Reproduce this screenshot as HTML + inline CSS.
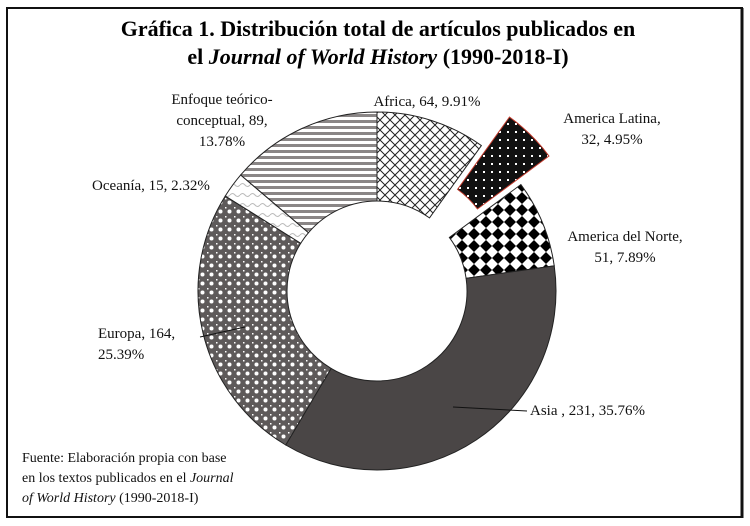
<!DOCTYPE html>
<html><head><meta charset="utf-8"><style>
html,body{margin:0;padding:0;background:#fff;}
svg{display:block;font-family:"Liberation Serif",serif;}
</style></head><body>
<svg width="750" height="526" viewBox="0 0 750 526">
<defs>
<pattern id="pAfr" width="10" height="10" patternUnits="userSpaceOnUse"><rect width="10" height="10" fill="#fff"/><path d="M0 0L10 10M10 0L0 10" stroke="#222" stroke-width="1"/></pattern>
<pattern id="pLat" width="8" height="8" patternUnits="userSpaceOnUse"><rect width="8" height="8" fill="#111"/><rect x="3" y="3" width="2" height="2" fill="#fff"/></pattern>
<pattern id="pNor" width="12" height="12" patternUnits="userSpaceOnUse"><rect width="12" height="12" fill="#fff"/><path d="M6 0L12 6L6 12L0 6Z" fill="#000"/></pattern>
<pattern id="pEur" width="9" height="9" patternUnits="userSpaceOnUse"><rect width="9" height="9" fill="#5e5a5a"/><circle cx="4.5" cy="4.5" r="2" fill="#fff"/><rect x="0" y="0" width="1.5" height="1.5" fill="#fff"/></pattern>
<pattern id="pOce" width="10" height="10" patternUnits="userSpaceOnUse"><rect width="10" height="10" fill="#fff"/><path d="M0 5Q2.5 2 5 5T10 5" stroke="#bbb" fill="none"/></pattern>
<pattern id="pEnf" width="6" height="6" patternUnits="userSpaceOnUse"><rect width="6" height="6" fill="#fff"/><rect y="0" width="6" height="3" fill="#8a8686"/></pattern>
</defs>
<rect x="7" y="8" width="735" height="509" fill="#fff" stroke="#111" stroke-width="2"/>
<line x1="742" y1="8" x2="742" y2="518" stroke="#111" stroke-width="3"/>
<g font-weight="bold" font-size="22" text-anchor="middle">
<text x="378" y="36">Gráfica 1. Distribución total de artículos publicados en</text>
<text x="378" y="64">el <tspan font-style="italic">Journal of World History</tspan> (1990-2018-I)</text>
</g>
<g id="slices"></g>
<g font-size="15" fill="#111">
<text x="222" y="104" text-anchor="middle"><tspan x="222">Enfoque teórico-</tspan><tspan x="222" dy="21">conceptual, 89,</tspan><tspan x="222" dy="21">13.78%</tspan></text>
<text x="427" y="106" text-anchor="middle">Africa, 64, 9.91%</text>
<text x="612" y="123" text-anchor="middle"><tspan x="612">America Latina,</tspan><tspan x="612" dy="21">32, 4.95%</tspan></text>
<text x="625" y="241" text-anchor="middle"><tspan x="625">America del Norte,</tspan><tspan x="625" dy="21">51, 7.89%</tspan></text>
<text x="151" y="190" text-anchor="middle">Oceanía, 15, 2.32%</text>
<text x="98" y="338"><tspan x="98">Europa, 164,</tspan><tspan x="98" dy="21">25.39%</tspan></text>
<text x="530" y="415">Asia , 231, 35.76%</text>
</g>
<line x1="200" y1="337" x2="245" y2="327" stroke="#111"/>
<line x1="453" y1="407" x2="527" y2="411" stroke="#111"/>
<g font-size="14" fill="#111">
<text x="22" y="462">Fuente: Elaboración propia con base</text>
<text x="22" y="482">en los textos publicados en el <tspan font-style="italic">Journal</tspan></text>
<text x="22" y="502"><tspan font-style="italic">of World History</tspan> (1990-2018-I)</text>
</g>
</svg>
<script>
const categories = ["Africa","America Latina","America del Norte","Asia","Europa","Oceanía","Enfoque teórico-conceptual"];
const values = [64,32,51,231,164,15,89];
const fills = ["url(#pAfr)","url(#pLat)","url(#pNor)","#4a4646","url(#pEur)","url(#pOce)","url(#pEnf)"];
const exploded = [false,true,false,false,false,false,false];
const cx=377, cy=291, R=179, r=90, off=40;
const total = values.reduce((a,b)=>a+b,0);
const g = document.getElementById('slices');
function pt(rad,a,dx,dy){return [cx+dx+rad*Math.sin(a), cy+dy-rad*Math.cos(a)];}
let acc=0;
values.forEach((v,i)=>{
  const a0=acc/total*2*Math.PI, a1=(acc+v)/total*2*Math.PI; acc+=v;
  const mid=(a0+a1)/2;
  const dx=exploded[i]?off*Math.sin(mid):0, dy=exploded[i]?-off*Math.cos(mid):0;
  const large=(a1-a0)>Math.PI?1:0;
  const p1=pt(R,a0,dx,dy),p2=pt(R,a1,dx,dy),p3=pt(r,a1,dx,dy),p4=pt(r,a0,dx,dy);
  const d=`M${p1}A${R},${R} 0 ${large} 1 ${p2}L${p3}A${r},${r} 0 ${large} 0 ${p4}Z`;
  const el=document.createElementNS('http://www.w3.org/2000/svg','path');
  el.setAttribute('d',d);
  el.setAttribute('fill',fills[i]);
  el.setAttribute('stroke',exploded[i]?'#c0392b':'#222');
  el.setAttribute('stroke-width','1');
  
  
  g.appendChild(el);
});
</script>
</body></html>
